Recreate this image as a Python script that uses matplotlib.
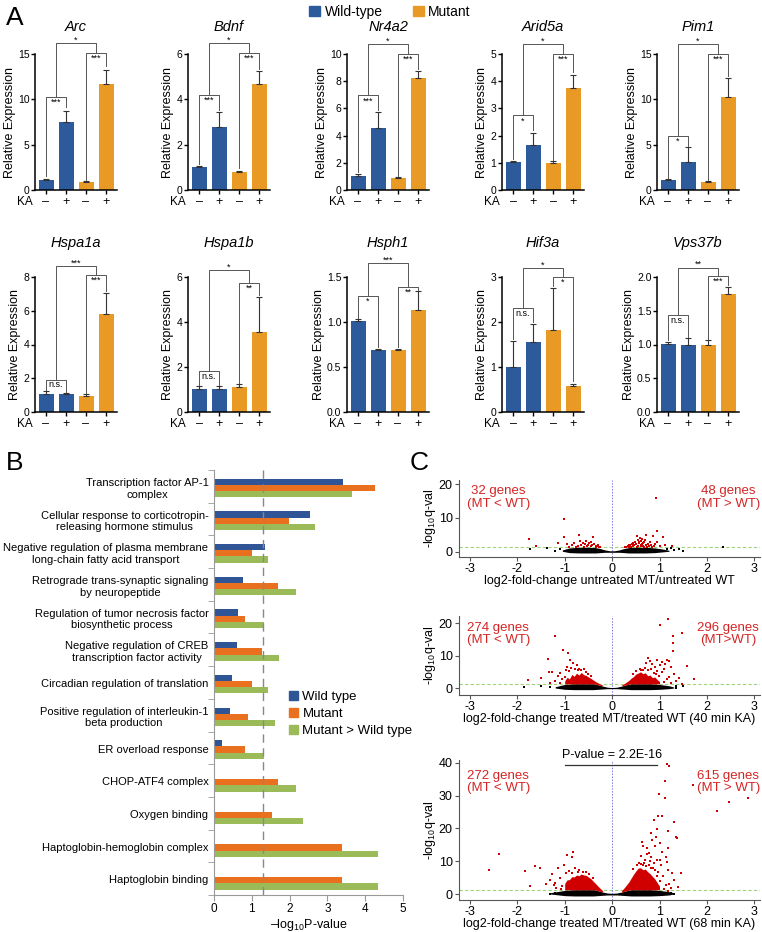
import numpy as np
import matplotlib
matplotlib.use("Agg")
import matplotlib.pyplot as plt
import matplotlib.patches as mpatches

plt.rcParams['font.family'] = ['Liberation Sans', 'DejaVu Sans']
plt.rcParams['mathtext.fontset'] = 'custom'
plt.rcParams['mathtext.rm'] = 'Liberation Sans'
plt.rcParams['mathtext.it'] = 'Liberation Sans:italic'
plt.rcParams['axes.unicode_minus'] = False

W, H = 762, 932
C_WT = "#2c5a9a"; C_MT = "#e99a25"
B_WT = "#2f5597"; B_MT = "#e8701f"; B_GR = "#9bbb59"
RED = "#d10000"; RED_T = "#d42525"

# ── Panel A: qPCR ─────────────────────────────────────────────────────────
genes = ["Arc", "Bdnf", "Nr4a2", "Arid5a", "Pim1",
         "Hspa1a", "Hspa1b", "Hsph1", "Hif3a", "Vps37b"]
ka_labels = ["–", "+", "–", "+"]
means = [[1.10, 7.50, 0.92, 11.7], [1.02, 2.76, 0.80, 4.67], [1.05, 4.56, 0.90, 8.20],
         [1.04, 1.67, 1.01, 3.76], [1.10, 3.10, 0.92, 10.3], [1.04, 1.08, 0.94, 5.78],
         [1.04, 1.04, 1.09, 3.55], [1.01, 0.69, 0.69, 1.13], [1.00, 1.56, 1.82, 0.57],
         [1.01, 1.00, 1.00, 1.75]]
errs = [[0.08, 1.25, 0.06, 1.50], [0.02, 0.70, 0.03, 0.56], [0.10, 1.17, 0.05, 0.55],
        [0.04, 0.43, 0.04, 0.48], [0.06, 1.65, 0.06, 2.00], [0.20, 0.06, 0.14, 1.28],
        [0.11, 0.10, 0.15, 1.55], [0.02, 0.005, 0.005, 0.21], [0.58, 0.40, 0.94, 0.06],
        [0.03, 0.09, 0.06, 0.10]]
ymax = [15, 6, 10, 5, 15, 8, 6, 1.5, 3, 2.0]
ystep = [5, 2, 2, 1, 5, 2, 2, 0.5, 1, 0.5]
# (label, top, left leg end, right leg end) for WT pair, MT pair; outer (label, top)
br_wt = [("***", 10.3, 1.5, 9.2), ("***", 4.2, 1.15, 3.55), ("***", 6.95, 1.3, 5.9),
         ("*", 2.74, 1.15, 2.2), ("*", 6.0, 1.3, 4.9), ("n.s.", 1.92, 1.3, 1.2),
         ("n.s.", 1.82, 1.2, 1.2), ("*", 1.29, 1.05, 0.72), ("n.s.", 2.31, 1.62, 2.0),
         ("n.s.", 1.44, 1.06, 1.11)]
br_mt = [("***", 15.1, 1.1, 13.7), ("***", 6.04, 0.95, 5.35), ("***", 10.0, 1.0, 8.9),
         ("***", 5.0, 1.12, 4.35), ("***", 15.0, 1.05, 12.6), ("***", 8.1, 1.15, 7.2),
         ("**", 5.72, 1.3, 5.2), ("**", 1.39, 0.72, 1.36), ("*", 3.0, 2.8, 0.68),
         ("***", 2.01, 1.08, 1.88)]
br_out = [("*", 16.2), ("*", 6.49), ("*", 10.7), ("*", 5.37), ("*", 16.1),
          ("***", 8.65), ("*", 6.3), ("***", 1.66), ("*", 3.2), ("**", 2.14)]

# ── Panel B: GO terms ─────────────────────────────────────────────────────
go_terms = ["Transcription factor AP-1\ncomplex",
            "Cellular response to corticotropin-\nreleasing hormone stimulus",
            "Negative regulation of plasma membrane\nlong-chain fatty acid transport",
            "Retrograde trans-synaptic signaling\nby neuropeptide",
            "Regulation of tumor necrosis factor\nbiosynthetic process",
            "Negative regulation of CREB\ntranscription factor activity",
            "Circadian regulation of translation",
            "Positive regulation of interleukin-1\nbeta production",
            "ER overload response", "CHOP-ATF4 complex", "Oxygen binding",
            "Haptoglobin-hemoglobin complex", "Haptoglobin binding"]
go_wt = [3.42, 2.54, 1.35, 0.76, 0.63, 0.60, 0.48, 0.42, 0.21, 0, 0, 0, 0]
go_mt = [4.26, 1.98, 1.00, 1.68, 0.82, 1.27, 1.00, 0.90, 0.82, 1.68, 1.53, 3.38, 3.38]
go_gr = [3.64, 2.67, 1.43, 2.17, 1.33, 1.72, 1.43, 1.61, 1.33, 2.17, 2.36, 4.35, 4.35]
go_cut = 1.3

# ── Panel C: volcano plots ───────────────────────────────────────────────
v1_red = [(-1.76, 3.9), (-1.60, 1.7), (-1.02, 9.7), (-1.02, 4.3), (-1.14, 2.7), (-0.95, 2.2),
          (-0.85, 1.9), (-0.70, 5.0), (-0.62, 2.6), (-0.55, 3.2), (-0.50, 2.0), (-0.45, 1.6),
          (-0.41, 4.3), (-0.38, 2.4), (-0.33, 1.5), (-0.30, 1.9), (-0.27, 1.5), (-0.25, 1.4),
          (-0.60, 1.5), (-0.72, 1.6), (-0.80, 2.6), (-0.48, 2.7), (-0.35, 1.8), (-0.65, 1.9),
          (-0.90, 1.4), (-0.42, 2.1), (-0.58, 2.2), (-0.52, 1.7), (-0.68, 3.3), (-0.31, 1.6),
          (-0.44, 2.9), (-0.77, 1.4),
          (0.92, 16.0), (0.94, 6.2), (0.64, 3.9), (0.52, 4.5), (0.71, 5.0), (1.08, 4.3),
          (0.94, 3.0), (1.27, 1.7), (0.57, 2.5), (0.60, 3.2), (0.45, 1.8), (0.50, 2.2),
          (0.55, 1.6), (0.62, 2.0), (0.68, 2.8), (0.75, 2.3), (0.78, 1.6), (0.82, 2.0),
          (0.40, 1.5), (0.35, 1.4), (0.30, 1.45), (0.66, 1.7), (0.72, 1.9), (0.48, 2.9),
          (0.58, 4.0), (0.85, 1.5), (0.90, 2.4), (1.00, 1.7), (0.45, 2.5), (0.38, 1.9),
          (0.54, 3.5), (0.63, 2.4), (0.33, 1.6), (0.42, 2.2), (0.70, 3.6), (0.80, 2.9),
          (0.88, 1.8), (0.52, 1.5), (0.60, 1.7), (0.36, 2.1), (0.47, 1.9), (0.65, 2.6),
          (0.74, 1.5), (0.56, 3.0), (0.28, 1.4), (1.12, 2.1), (0.86, 4.6), (0.68, 1.3)]
v1_black = [(-1.38, 1.0), (-1.73, 0.7), (2.34, 1.3), (1.15, 0.9), (1.41, 0.9), (1.30, 0.4),
            (-1.20, 0.3), (1.50, 0.2), (-1.10, 0.8), (1.25, 1.1)]
band1_x = [-1.05, -0.9, -0.7, -0.5, -0.35, -0.25, -0.15, -0.05, 0.05, 0.15, 0.25, 0.35, 0.5, 0.7, 0.9, 1.05, 1.2]
band1_hi = [0.5, 1.1, 1.3, 1.3, 1.2, 0.9, 0.5, 0.25, 0.25, 0.5, 0.9, 1.2, 1.3, 1.3, 1.1, 0.8, 0.4]
band1_lo = [0.1, -0.3, -0.4, -0.4, -0.4, -0.3, -0.2, -0.2, -0.2, -0.2, -0.3, -0.4, -0.4, -0.4, -0.3, -0.1, 0.1]

v2_red = [(-1.21, 16.1), (-1.04, 11.8), (-1.35, 9.0), (-1.34, 5.0), (-1.27, 5.0), (-1.51, 3.1),
          (-1.77, 2.5), (-0.92, 10.8), (-0.89, 8.7), (-0.82, 7.7), (-0.75, 7.2), (-0.95, 6.5),
          (-0.86, 6.2), (-0.78, 5.9), (-1.10, 4.5), (-1.15, 3.6), (-1.05, 2.8), (-1.20, 2.2),
          (-0.98, 5.6), (-0.70, 6.0), (-0.65, 5.5), (-1.30, 1.7), (-1.10, 1.6), (-0.60, 5.8),
          (-0.90, 5.2), (-0.72, 5.6), (-0.55, 4.8), (-0.50, 4.3), (-0.45, 3.7), (-1.00, 3.3),
          (1.00, 19.5), (1.18, 21.3), (1.48, 17.1), (1.28, 15.9), (1.28, 13.8), (1.29, 11.3),
          (1.57, 6.7), (1.73, 2.8), (1.48, 1.3), (0.75, 9.2), (0.80, 8.3), (0.95, 8.6),
          (1.05, 8.0), (1.15, 8.5), (1.20, 8.3), (0.72, 7.6), (0.85, 7.3), (0.90, 6.6),
          (1.00, 7.1), (1.12, 7.4), (1.25, 6.5), (1.10, 5.8), (0.95, 5.4), (1.05, 4.8),
          (1.30, 4.2), (1.20, 3.5), (1.35, 2.2), (1.15, 2.8), (1.25, 1.6), (1.10, 2.0),
          (0.98, 3.6), (0.88, 4.6), (0.82, 5.8), (0.70, 6.3), (0.66, 5.6), (1.42, 3.0),
          (0.50, 5.2), (0.58, 5.8), (0.62, 5.6), (0.76, 5.5), (0.44, 4.2), (0.92, 4.3)]
v2_black = [(-1.85, 0.2), (1.34, 0.0), (-1.50, 0.5), (1.50, 0.6), (-1.30, 0.3), (1.35, 0.6)]
core2_lx = [-1.0, -0.95, -0.9, -0.85, -0.8, -0.75, -0.7, -0.65, -0.6, -0.55, -0.5, -0.45, -0.4, -0.35, -0.3, -0.25, -0.2]
core2_lhi = [2.2, 3.3, 2.8, 4.2, 3.6, 4.6, 4.0, 4.8, 4.1, 3.9, 3.4, 3.0, 2.5, 2.0, 1.6, 1.2, 0.9]
core2_llo = [1.3, 1.3, 1.3, 1.3, 1.3, 1.3, 1.3, 1.3, 1.3, 1.3, 1.3, 1.3, 1.3, 1.2, 1.0, 0.8, 0.7]
core2_rx = [0.2, 0.25, 0.3, 0.35, 0.4, 0.45, 0.5, 0.55, 0.6, 0.65, 0.7, 0.75, 0.8, 0.85, 0.9, 0.95, 1.0]
core2_rhi = [0.9, 1.3, 1.8, 2.3, 3.0, 3.5, 4.3, 4.6, 5.0, 4.4, 4.7, 3.8, 4.0, 3.2, 3.4, 2.6, 2.0]
core2_rlo = [0.7, 0.8, 1.0, 1.2, 1.3, 1.3, 1.3, 1.3, 1.3, 1.3, 1.3, 1.3, 1.3, 1.3, 1.3, 1.3, 1.3]
band2_x = [-1.2, -1.0, -0.8, -0.6, -0.4, -0.3, -0.2, -0.1, 0.0, 0.1, 0.2, 0.3, 0.4, 0.6, 0.8, 1.0, 1.2, 1.3]
band2_hi = [0.4, 1.1, 1.3, 1.3, 1.3, 1.0, 0.6, 0.25, 0.15, 0.25, 0.6, 1.0, 1.3, 1.3, 1.3, 1.1, 0.7, 0.3]
band2_lo = [0.0, -0.4, -0.5, -0.5, -0.5, -0.4, -0.3, -0.2, -0.2, -0.2, -0.3, -0.4, -0.5, -0.5, -0.5, -0.4, -0.2, 0.0]

v3_red = [(-2.38, 12.1), (-2.59, 7.3), (-1.83, 7.1), (-1.63, 8.5), (-1.52, 7.8), (-1.73, 2.4),
          (-0.95, 11.8), (-0.83, 12.9), (-0.85, 11.4), (-1.15, 7.8), (-1.27, 6.0), (-1.31, 4.3),
          (-1.02, 8.9), (-1.40, 3.0), (-1.20, 3.5), (-1.10, 5.0), (-1.05, 2.5), (-1.18, 1.9),
          (-0.90, 7.0), (-0.78, 8.0), (-0.70, 7.2), (-0.98, 6.3), (-1.22, 2.6), (-1.08, 1.6),
          (-0.62, 6.8), (-0.55, 6.6), (-0.48, 6.1), (-0.85, 6.4), (-0.40, 5.0), (-0.72, 6.6),
          (1.15, 39.7), (1.20, 39.0), (1.70, 33.3), (1.11, 34.5), (0.98, 30.6), (1.12, 29.2),
          (2.47, 28.1), (2.86, 29.2), (2.21, 25.3), (0.97, 23.8), (1.06, 23.8), (0.88, 22.6),
          (0.94, 19.7), (0.83, 18.7), (1.31, 22.1), (1.34, 17.5), (1.36, 17.1), (1.17, 19.3),
          (1.18, 13.9), (1.17, 7.3), (1.27, 6.3), (1.46, 6.3), (1.31, 4.3), (1.13, 2.7),
          (1.13, 11.4), (0.94, 10.4), (0.81, 11.4), (0.73, 12.1), (0.88, 9.4), (1.04, 8.9),
          (0.64, 16.0), (0.66, 14.6), (0.74, 13.9), (0.78, 12.5), (0.90, 14.5), (1.00, 15.6),
          (1.05, 12.8), (0.85, 16.5), (0.92, 17.4), (0.70, 10.3), (0.62, 11.5), (0.68, 9.6),
          (0.80, 10.1), (0.96, 6.8), (1.08, 5.6), (1.00, 4.0), (1.20, 3.2), (1.25, 1.8),
          (1.10, 1.5), (1.18, 0.9), (0.77, 8.9), (0.86, 7.8), (0.60, 9.2), (1.02, 10.5),
          (1.15, 9.7), (1.40, 2.0), (0.52, 8.8), (0.56, 9.5), (0.66, 8.8), (0.72, 8.6),
          (0.82, 8.0), (0.90, 7.2), (0.45, 7.6), (0.94, 5.6)]
v3_black = [(-1.20, 0.2), (1.20, 0.1), (1.25, 0.3), (-1.10, 0.0), (-1.30, 0.1), (1.30, 0.0)]
core3_lx = [-1.0, -0.95, -0.9, -0.85, -0.8, -0.75, -0.7, -0.65, -0.6, -0.55, -0.5, -0.45, -0.4, -0.35, -0.3, -0.25, -0.2]
core3_lhi = [3.2, 4.3, 4.4, 5.3, 5.2, 5.8, 5.6, 6.1, 5.8, 5.7, 5.2, 4.7, 3.9, 3.2, 2.4, 1.7, 1.0]
core3_llo = [1.3, 1.3, 1.3, 1.3, 1.3, 1.3, 1.3, 1.3, 1.3, 1.3, 1.3, 1.3, 1.3, 1.2, 1.0, 0.8, 0.6]
core3_rx = [0.2, 0.25, 0.3, 0.35, 0.4, 0.45, 0.5, 0.55, 0.6, 0.65, 0.7, 0.75, 0.8, 0.85, 0.9, 0.95, 1.0]
core3_rhi = [1.0, 1.8, 2.7, 3.6, 4.8, 6.0, 7.0, 7.9, 8.0, 7.4, 7.6, 6.8, 6.2, 5.4, 4.6, 3.5, 2.4]
core3_rlo = [0.6, 0.8, 1.0, 1.2, 1.3, 1.3, 1.3, 1.3, 1.3, 1.3, 1.3, 1.3, 1.3, 1.3, 1.3, 1.3, 1.3]
band3_x = [-1.3, -1.0, -0.8, -0.6, -0.4, -0.3, -0.2, -0.1, 0.0, 0.1, 0.2, 0.3, 0.4, 0.6, 0.8, 1.0, 1.2, 1.3]
band3_hi = [0.4, 1.1, 1.3, 1.3, 1.3, 1.0, 0.6, 0.3, 0.2, 0.3, 0.6, 1.0, 1.3, 1.3, 1.3, 1.1, 0.7, 0.4]
band3_lo = [0.0, -0.5, -0.6, -0.6, -0.6, -0.5, -0.4, -0.3, -0.3, -0.3, -0.4, -0.5, -0.6, -0.6, -0.6, -0.5, -0.3, 0.0]

volcano_xlabels = ["log2-fold-change untreated MT/untreated WT",
                   "log2-fold-change treated MT/treated WT (40 min KA)",
                   "log2-fold-change treated MT/treated WT (68 min KA)"]
volcano_counts = [("32 genes\n(MT < WT)", "48 genes\n(MT > WT)"),
                  ("274 genes\n(MT < WT)", "296 genes\n(MT>WT)"),
                  ("272 genes\n(MT < WT)", "615 genes\n(MT > WT)")]
q_cut = 1.3

fig = plt.figure(figsize=(W / 100, H / 100), dpi=100)


def px_axes(l, t, r, b):
    return fig.add_axes([l / W, 1 - b / H, (r - l) / W, (b - t) / H])


def bracket(ax, x1, x2, top, yl, yr, label, inner=True):
    ax.plot([x1, x1, x2, x2], [yl, top, top, yr], color="#555", lw=0.7,
            clip_on=False, zorder=3)
    if inner:
        ax.annotate(label, xy=((x1 + x2) / 2, top), xytext=(0, -0.6),
                    textcoords="offset points", ha="center", va="top",
                    fontsize=6.5, annotation_clip=False)
    else:
        ax.annotate(label, xy=((x1 + x2) / 2, top), xytext=(0, -1.2),
                    textcoords="offset points", ha="center", va="bottom",
                    fontsize=6.5, annotation_clip=False)


# ── Panel A ──────────────────────────────────────────────────────────────
lefts = [35, 188, 347, 502, 657]
for k, g in enumerate(genes):
    row, col = divmod(k, 5)
    t, b = (54, 190) if row == 0 else (277, 412)
    title_y = 27 if row == 0 else 243
    ax = px_axes(lefts[col], t, lefts[col] + 82, b)
    xs = np.arange(4)
    ax.bar(xs, means[k], width=0.75, color=[C_WT, C_WT, C_MT, C_MT], zorder=2)
    ax.errorbar(xs, means[k], yerr=[[0] * 4, errs[k]], fmt="none", ecolor="#333",
                elinewidth=0.8, capsize=2.3, capthick=0.8, zorder=3)
    ax.set_xlim(-0.55, 3.55)
    ax.set_ylim(0, ymax[k])
    ticks = np.arange(0, ymax[k] + 1e-9, ystep[k])
    ax.set_yticks(ticks)
    if ystep[k] < 1:
        ax.set_yticklabels([f"{v:.1f}" for v in ticks])
    ax.set_xticks(xs)
    ax.set_xticklabels(ka_labels)
    for s in ("top", "right"):
        ax.spines[s].set_visible(False)
    for s in ("left", "bottom"):
        ax.spines[s].set_linewidth(1.1)
    ax.tick_params(axis="y", length=3, width=1, pad=1, labelsize=7.5)
    ax.tick_params(axis="x", length=3, width=1, pad=1.5, labelsize=9)
    ax.annotate("KA", xy=(-1.05, 0), xycoords=ax.get_xaxis_transform(),
                xytext=(0, -4.5), textcoords="offset points", ha="center",
                va="top", fontsize=8.5, annotation_clip=False)
    ax.set_ylabel("Relative Expression", fontsize=9, labelpad=1.5)
    ax.text(0.5, 1.0 + (t - title_y) / 136, g, transform=ax.transAxes,
            ha="center", va="center", fontsize=10.5, style="italic")
    lw_, tw, lr, rr = br_wt[k]
    bracket(ax, 0, 1, tw, lr, rr, lw_)
    lm, tm, lr2, rr2 = br_mt[k]
    bracket(ax, 2, 3, tm, lr2, rr2, lm)
    lo, to = br_out[k]
    bracket(ax, 0.5, 2.5, to, tw, tm, lo, inner=False)

fig.legend(handles=[mpatches.Patch(color=C_WT, label="Wild-type"),
                    mpatches.Patch(color=C_MT, label="Mutant")],
           loc="center", bbox_to_anchor=(390 / W, 1 - 12 / H), ncol=2,
           frameon=False, fontsize=10, handlelength=0.8, handleheight=0.8,
           handletextpad=0.3, columnspacing=2.2, borderpad=0)

for letter, (x, y) in zip("ABC", [(6, 18), (6, 463), (410, 463)]):
    fig.text(x / W, 1 - y / H, letter, fontsize=19, ha="left", va="center")

# ── Panel B ──────────────────────────────────────────────────────────────
axb = px_axes(214, 470, 403, 895)
yy = np.arange(len(go_terms))
axb.barh(yy - 0.14, go_wt, height=0.19, color=B_WT, zorder=2)
axb.barh(yy + 0.05, go_mt, height=0.19, color=B_MT, zorder=2)
axb.barh(yy + 0.24, go_gr, height=0.19, color=B_GR, zorder=2)
axb.axvline(go_cut, color="#888", lw=1, ls=(0, (6, 4)), zorder=3)
axb.set_ylim(12.45, -0.5)
axb.set_xlim(0, 5)
axb.set_yticks(yy + 0.02)
axb.set_yticklabels(go_terms, fontsize=8)
for lbl in axb.get_yticklabels():
    lbl.set_multialignment("center")
axb.set_yticks(np.arange(-0.5, 12.6, 1), minor=True)
axb.tick_params(axis="y", which="major", length=0, pad=4)
axb.tick_params(axis="y", which="minor", length=4, color="#999")
axb.set_xticks(range(6))
axb.tick_params(axis="x", length=4, color="#999", labelsize=8.5, pad=2)
for s in ("top", "right"):
    axb.spines[s].set_visible(False)
for s in ("left", "bottom"):
    axb.spines[s].set_color("#999")
axb.set_xlabel("–log$_{10}$P-value", fontsize=9, labelpad=1)
fig.legend(handles=[mpatches.Patch(color=B_WT, label="Wild type"),
                    mpatches.Patch(color=B_MT, label="Mutant"),
                    mpatches.Patch(color=B_GR, label="Mutant > Wild type")],
           loc="upper left", bbox_to_anchor=(282 / W, 1 - 684 / H), frameon=False,
           fontsize=9.5, handlelength=0.75, handleheight=0.75, handletextpad=0.3,
           labelspacing=0.35, borderpad=0)

# ── Panel C ──────────────────────────────────────────────────────────────
vol_boxes = [(459, 480, 760, 557), (459, 616, 760, 695), (459, 760, 760, 900)]
vol_ylim = [(-1.6, 21.3), (-2.15, 22.2), (-1.83, 40.9)]
vol_yticks = [[0, 10, 20], [0, 10, 20], [0, 10, 20, 30, 40]]
vol_red = [v1_red, v2_red, v3_red]
vol_black = [v1_black, v2_black, v3_black]
bands = [(band1_x, band1_lo, band1_hi), (band2_x, band2_lo, band2_hi),
         (band3_x, band3_lo, band3_hi)]
cores = [None,
         [(core2_lx, core2_llo, core2_lhi), (core2_rx, core2_rlo, core2_rhi)],
         [(core3_lx, core3_llo, core3_lhi), (core3_rx, core3_rlo, core3_rhi)]]

for i in range(3):
    ax = px_axes(*vol_boxes[i])
    bx, blo, bhi = bands[i]
    ax.fill_between(bx, blo, bhi, color="black", lw=0, zorder=2)
    if cores[i] is not None:
        for cx, clo, chi in cores[i]:
            ax.fill_between(cx, clo, chi, color=RED, lw=0, zorder=3)
    rx, ry = zip(*vol_red[i])
    ax.scatter(rx, ry, s=4, marker="s", color=RED, lw=0, zorder=4)
    kx, ky = zip(*vol_black[i])
    ax.scatter(kx, ky, s=3.5, marker="s", color="black", lw=0, zorder=4)
    ax.axhline(q_cut, color="#9fd27a", lw=0.8, ls=(0, (3, 2)), zorder=1)
    ax.axvline(0, color="#7a7ae0", lw=0.7, ls=(0, (1.5, 1.5)), zorder=1)
    ax.set_xlim(-3.23, 3.12)
    ax.set_ylim(*vol_ylim[i])
    ax.set_yticks(vol_yticks[i])
    ax.set_xticks(range(-3, 4))
    for s in ("top", "right"):
        ax.spines[s].set_visible(False)
    for s in ("left", "bottom"):
        ax.spines[s].set_color("#555")
        ax.spines[s].set_linewidth(0.8)
    ax.tick_params(length=3, color="#555", labelsize=9, pad=1.5)
    ax.set_xlabel(volcano_xlabels[i], fontsize=9, labelpad=0)
    ax.set_ylabel("-log$_{10}$q-val", fontsize=9)
    ax.yaxis.set_label_coords(-0.07, 0.5)
    left_t, right_t = volcano_counts[i]
    ax.text(0.13, 0.93, left_t, transform=ax.transAxes, ha="center", va="top",
            color=RED_T, fontsize=9.5, linespacing=1.05)
    ax.text(0.895, 0.93, right_t, transform=ax.transAxes, ha="center", va="top",
            color=RED_T, fontsize=9.5, linespacing=1.05)
    if i == 2:
        ax.text(0.0, 42.3, "P-value = 2.2E-16", ha="center", va="center",
                fontsize=9, clip_on=False)
        ax.plot([-1.0, 0.95], [39.4, 39.4], color="#333", lw=0.9, clip_on=False)

fig.savefig("out.png", dpi=100)
